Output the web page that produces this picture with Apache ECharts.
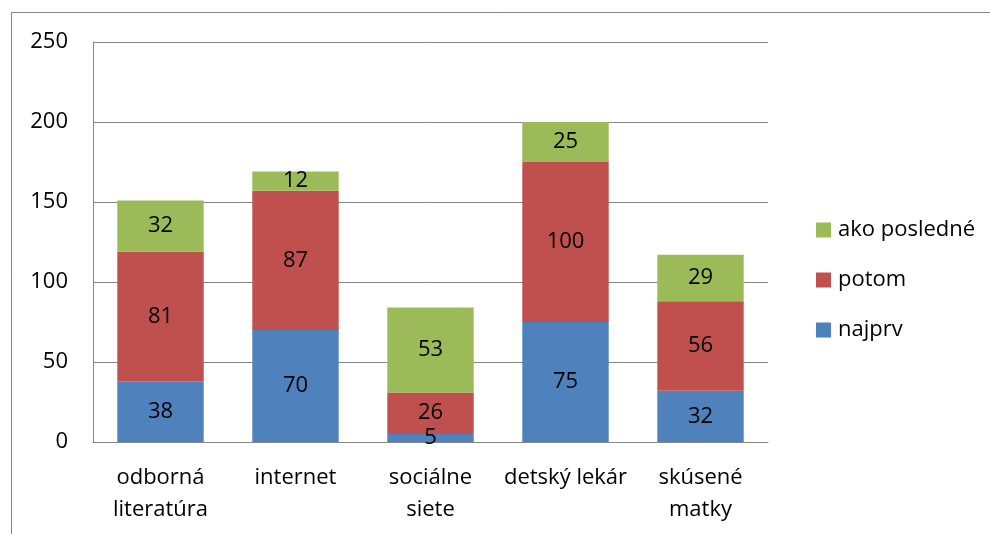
<!DOCTYPE html>
<html>
<head>
<meta charset="utf-8">
<script src="https://cdn.jsdelivr.net/npm/echarts@6/dist/echarts.min.js"></script>
<style>html,body{margin:0;padding:0;background:#fff}#c{width:990px;height:534px}</style>
</head>
<body>
<div id="c"></div>
<script>
const categories = ['odborná\nliteratúra', 'internet', 'sociálne\nsiete', 'detský lekár', 'skúsené\nmatky'];
const najprv = [38, 70, 5, 75, 32];
const potom = [81, 87, 26, 100, 56];
const akoPosledne = [32, 12, 53, 25, 29];
const yTicks = { min: 0, max: 250, interval: 50 };

const FONT = '"Open Sans"';
const FS = 22;
const chart = echarts.init(document.getElementById('c'), null, { renderer: 'canvas' });
const lbl = { show: true, position: 'inside', color: '#000', fontFamily: FONT, fontSize: FS };
function s(name, data, color) {
  return { name, type: 'bar', stack: 'a', data, barWidth: '64%', itemStyle: { color }, label: lbl };
}
chart.setOption({
  animation: false,
  backgroundColor: '#fff',
  graphic: [{ type: 'rect', shape: { x: 11.5, y: 12.5, width: 1000, height: 600 }, style: { fill: 'none', stroke: '#868686', lineWidth: 1 }, silent: true }],
  grid: { left: 93, right: 222, top: 42, bottom: 92 },
  legend: {
    orient: 'vertical', left: 811, top: 214, itemWidth: 15, itemHeight: 15, itemGap: 28,
    icon: 'rect',
    data: ['ako posledné', 'potom', 'najprv'],
    textStyle: { fontFamily: FONT, fontSize: FS, lineHeight: 20, color: '#000', padding: [0, 0, 0, 2] }
  },
  xAxis: {
    type: 'category', data: categories,
    axisLine: { lineStyle: { color: '#868686', width: 1 } },
    axisTick: { show: false },
    axisLabel: { color: '#000', fontFamily: FONT, fontSize: FS, lineHeight: 32, margin: 20, interval: 0 }
  },
  yAxis: {
    type: 'value', min: yTicks.min, max: yTicks.max, interval: yTicks.interval,
    axisLine: { show: true, lineStyle: { color: '#868686', width: 1 } },
    axisTick: { show: false },
    splitLine: { lineStyle: { color: '#868686', width: 1 } },
    axisLabel: { color: '#000', fontFamily: FONT, fontSize: FS, margin: 25 }
  },
  series: [
    s('najprv', najprv, '#4F81BD'),
    s('potom', potom, '#C0504D'),
    s('ako posledné', akoPosledne, '#9BBB59')
  ]
});
</script>
</body>
</html>
